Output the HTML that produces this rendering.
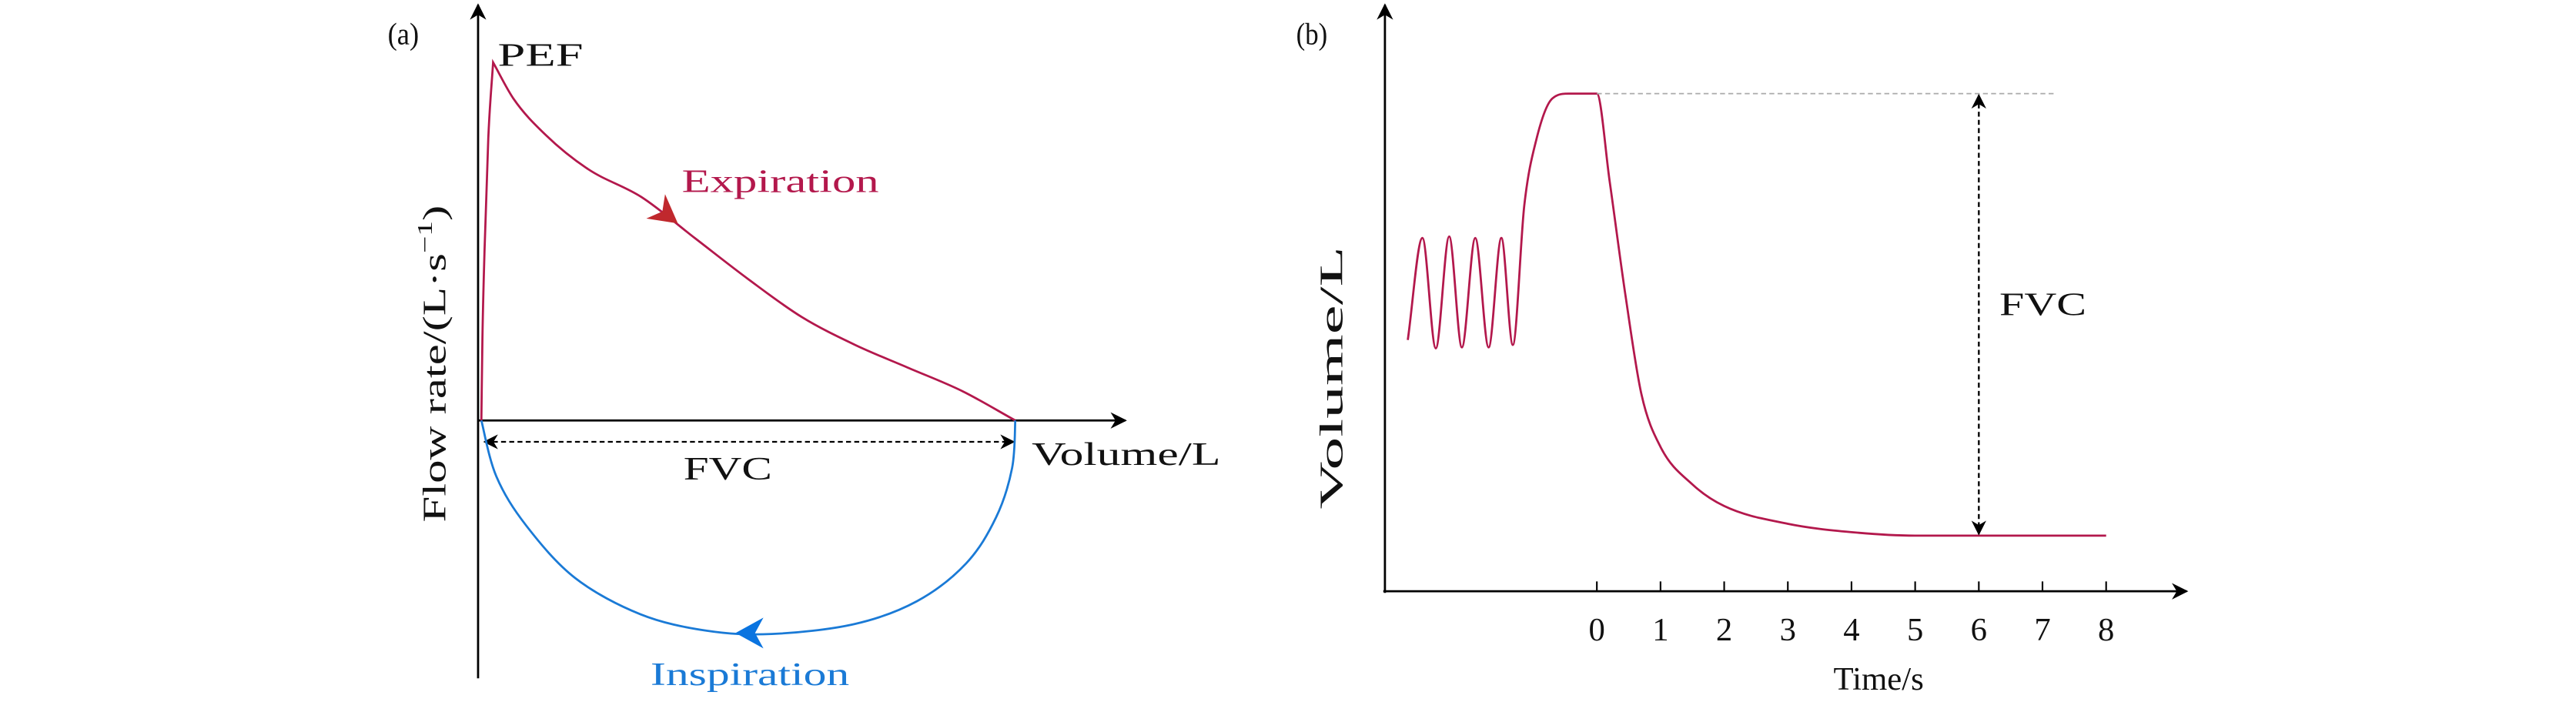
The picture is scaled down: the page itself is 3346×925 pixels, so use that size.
<!DOCTYPE html>
<html><head><meta charset="utf-8"><style>
html,body{margin:0;padding:0;background:#fff;width:3346px;height:925px;overflow:hidden}
svg{display:block}
text{font-family:"Liberation Serif",serif;fill:#111}
</style></head><body>
<svg id="chart" width="3346" height="925" viewBox="0 0 1568 433.5" preserveAspectRatio="none" xmlns="http://www.w3.org/2000/svg">
<defs>
<marker id="ah" viewBox="0 0 10 10" refX="9" refY="5" markerWidth="10" markerHeight="10" markerUnits="userSpaceOnUse" orient="auto"><path d="M0,0 L10,5 L0,10 L3,5 Z" fill="#000"/></marker>
<marker id="ahs" viewBox="0 0 10 10" refX="9" refY="5" markerWidth="9" markerHeight="9" markerUnits="userSpaceOnUse" orient="auto-start-reverse"><path d="M0,0 L10,5 L0,10 L3,5 Z" fill="#000"/></marker>
</defs>
<g id="pa">
<text x="236" y="27" font-size="19" textLength="19" lengthAdjust="spacingAndGlyphs">(a)</text>
<line x1="291" y1="413" x2="291" y2="3" stroke="#000" stroke-width="1.3" marker-end="url(#ah)"/>
<line x1="291" y1="256" x2="685" y2="256" stroke="#000" stroke-width="1.3" marker-end="url(#ah)"/>
<text x="303" y="40" font-size="20" textLength="52" lengthAdjust="spacingAndGlyphs">PEF</text>
<text x="415" y="117" font-size="20" textLength="120" lengthAdjust="spacingAndGlyphs" style="fill:#b3184c">Expiration</text>
<text x="396" y="417" font-size="20" textLength="121" lengthAdjust="spacingAndGlyphs" style="fill:#1a7ad6">Inspiration</text>
<line x1="295" y1="269" x2="617" y2="269" stroke="#000" stroke-width="1.1" stroke-dasharray="3,2" marker-start="url(#ahs)" marker-end="url(#ahs)"/>
<text x="416" y="292" font-size="20" textLength="54" lengthAdjust="spacingAndGlyphs">FVC</text>
<text x="628" y="283" font-size="20" textLength="115" lengthAdjust="spacingAndGlyphs">Volume/L</text>
<text transform="translate(271,318) rotate(-90)" font-size="20" textLength="193" lengthAdjust="spacingAndGlyphs">Flow rate/(L·s<tspan font-size="13" dy="-8">−1</tspan><tspan dy="8">)</tspan></text>
</g>
<g id="pb">
<text x="789" y="27" font-size="19" textLength="19" lengthAdjust="spacingAndGlyphs">(b)</text>
<line x1="843" y1="361" x2="843" y2="3" stroke="#000" stroke-width="1.3" marker-end="url(#ah)"/>
<line x1="842" y1="360" x2="1331" y2="360" stroke="#000" stroke-width="1.3" marker-end="url(#ah)"/>
<text x="1116" y="420" font-size="20" textLength="55" lengthAdjust="spacingAndGlyphs">Time/s</text>
<text transform="translate(817,310) rotate(-90)" font-size="20" textLength="160" lengthAdjust="spacingAndGlyphs">Volume/L</text>
<text x="1217" y="192" font-size="20" textLength="53" lengthAdjust="spacingAndGlyphs">FVC</text>
</g>
</svg>
<script>
// Panel (a) data: volume (L), flow (L/s)
const riseVol  = [0, 0.01, 0.03, 0.065, 0.11];
const riseFlow = [0, 2.5, 5.2, 8.6, 10.9];
const expVol  = [0.11, 0.3, 0.6, 1.0, 1.5, 2.0, 2.5, 3.0, 3.5, 4.0, 4.5, 5.0];
const expFlow = [10.9, 9.8, 8.7, 7.65, 6.8, 5.55, 4.3, 3.15, 2.3, 1.6, 0.9, 0];
const inspVol  = [5.0, 4.97, 4.82, 4.54, 4.08, 3.49, 2.72, 2.11, 1.49, 0.88, 0.42, 0.14, 0];
const inspFlow = [0, -1.45, -2.95, -4.35, -5.5, -6.2, -6.5, -6.4, -5.9, -4.8, -3.2, -1.7, 0];
// Panel (b) data: time (s), volume (L)
const timeS = [-2.97, -2.74, -2.53, -2.32, -2.12, -1.91, -1.70, -1.50, -1.32, -1.14, -0.95, -0.70, -0.44, 0, 0.2, 0.45, 0.7, 1.0, 1.5, 2.0, 3.0, 4.0, 5.0, 6.0, 8.0];
const volL  = [5.1, 7.17, 4.93, 7.2, 4.95, 7.17, 4.95, 7.17, 5.0, 7.83, 9.17, 10.0, 10.1, 10.1, 8.33, 6.0, 4.0, 2.93, 2.17, 1.73, 1.37, 1.2, 1.13, 1.13, 1.13];
const tickLabels = ["0","1","2","3","4","5","6","7","8"];
const fvcTime = 6;

const NS = "http://www.w3.org/2000/svg";
const xa = v => 293 + v * 65, ya = f => 256 - f * 20;
const xb = t => 972 + t * 38.75, yb = v => 360 - v * 30;

// Catmull-Rom (for non-function curve)
function cr(pts){
  let d = "M" + pts[0][0] + "," + pts[0][1];
  for (let i = 0; i < pts.length - 1; i++) {
    const p0 = pts[Math.max(i-1,0)], p1 = pts[i], p2 = pts[i+1], p3 = pts[Math.min(i+2,pts.length-1)];
    const c1 = [p1[0]+(p2[0]-p0[0])/6, p1[1]+(p2[1]-p0[1])/6];
    const c2 = [p2[0]-(p3[0]-p1[0])/6, p2[1]-(p3[1]-p1[1])/6];
    d += " C"+c1[0]+","+c1[1]+" "+c2[0]+","+c2[1]+" "+p2[0]+","+p2[1];
  }
  return d;
}
// monotone cubic in x (Fritsch-Carlson)
function mono(pts){
  const n = pts.length, dx = [], s = [], m = [];
  for (let i=0;i<n-1;i++){ dx[i]=pts[i+1][0]-pts[i][0]; s[i]=(pts[i+1][1]-pts[i][1])/dx[i]; }
  m[0]=s[0]; m[n-1]=s[n-2];
  for (let i=1;i<n-1;i++){ m[i] = (s[i-1]*s[i]<=0) ? 0 : (s[i-1]+s[i])/2; }
  for (let i=0;i<n-1;i++){
    if (s[i]===0){ m[i]=0; m[i+1]=0; continue; }
    const a=m[i]/s[i], b=m[i+1]/s[i], h=a*a+b*b;
    if (h>9){ const t=3/Math.sqrt(h); m[i]=t*a*s[i]; m[i+1]=t*b*s[i]; }
  }
  let d = "M"+pts[0][0]+","+pts[0][1];
  for (let i=0;i<n-1;i++){
    const h=dx[i]/3;
    d += " C"+(pts[i][0]+h)+","+(pts[i][1]+m[i]*h)+" "+(pts[i+1][0]-h)+","+(pts[i+1][1]-m[i+1]*h)+" "+pts[i+1][0]+","+pts[i+1][1];
  }
  return d;
}
function mk(tag, attrs, parent){
  const e = document.createElementNS(NS, tag);
  for (const k in attrs) e.setAttribute(k, attrs[k]);
  parent.appendChild(e); return e;
}
function arrowHead(parent, x, y, ang, col, size){
  const s = size, c = Math.cos(ang), sn = Math.sin(ang);
  const p = [[0,0],[-s,-s*0.55],[-s*0.7,0],[-s,s*0.55]].map(q => [x+q[0]*c-q[1]*sn, y+q[0]*sn+q[1]*c]);
  return mk("polygon", {points: p.map(q=>q.join(",")).join(" "), fill: col}, parent);
}
const pa = document.getElementById("pa"), pb = document.getElementById("pb");

const rPts = riseVol.map((v,i)=>[xa(v), ya(riseFlow[i])]);
const ePts = expVol.map((v,i)=>[xa(v), ya(expFlow[i])]);
const ep = mk("path", {d: mono(rPts) + " " + mono(ePts).replace(/^M/, "L"), fill:"none", stroke:"#b3184c", "stroke-width":1.3, "stroke-linejoin":"miter"}, pa);


const iPts = inspVol.map((v,i)=>[xa(v), ya(inspFlow[i])]);
const ip = mk("path", {d: cr(iPts), fill:"none", stroke:"#1a7ad6", "stroke-width":1.3}, pa);


const eA = arrowHead(pa, xa(1.84), ya(6.0), Math.atan2(ya(5.55)-ya(6.8), xa(2.0)-xa(1.5)), "#c0282d", 17);


const iA = arrowHead(pa, xa(2.38), ya(-6.47), Math.PI, "#0a74e0", 17);



// panel b
const bPts = timeS.map((t,i)=>[xb(t), yb(volL[i])]);
const bp = mk("path", {d: mono(bPts), fill:"none", stroke:"#b3184c", "stroke-width":1.3}, pb);


const vmax = Math.max(...volL), vend = volL[volL.length-1];
const gl = mk("line", {x1: xb(0), y1: yb(vmax), x2: xb(7.2), y2: yb(vmax), stroke:"#aaa", "stroke-width":0.8, "stroke-dasharray":"3,2"}, pb);


const fa = mk("line", {x1: xb(fvcTime), y1: yb(vmax)+1, x2: xb(fvcTime), y2: yb(vend)-1, stroke:"#000", "stroke-width":1.1, "stroke-dasharray":"3,2", "marker-start":"url(#ahs)", "marker-end":"url(#ahs)"}, pb);


tickLabels.forEach((lb,i)=>{
  const t = mk("line", {x1: xb(i), y1: 360, x2: xb(i), y2: 354, stroke:"#000", "stroke-width":1}, pb);
  
  
  const tx = mk("text", {x: xb(i), y: 390, "font-size": 20, "text-anchor":"middle"}, pb);
  tx.textContent = lb;
  
  
});
</script>
</body></html>
